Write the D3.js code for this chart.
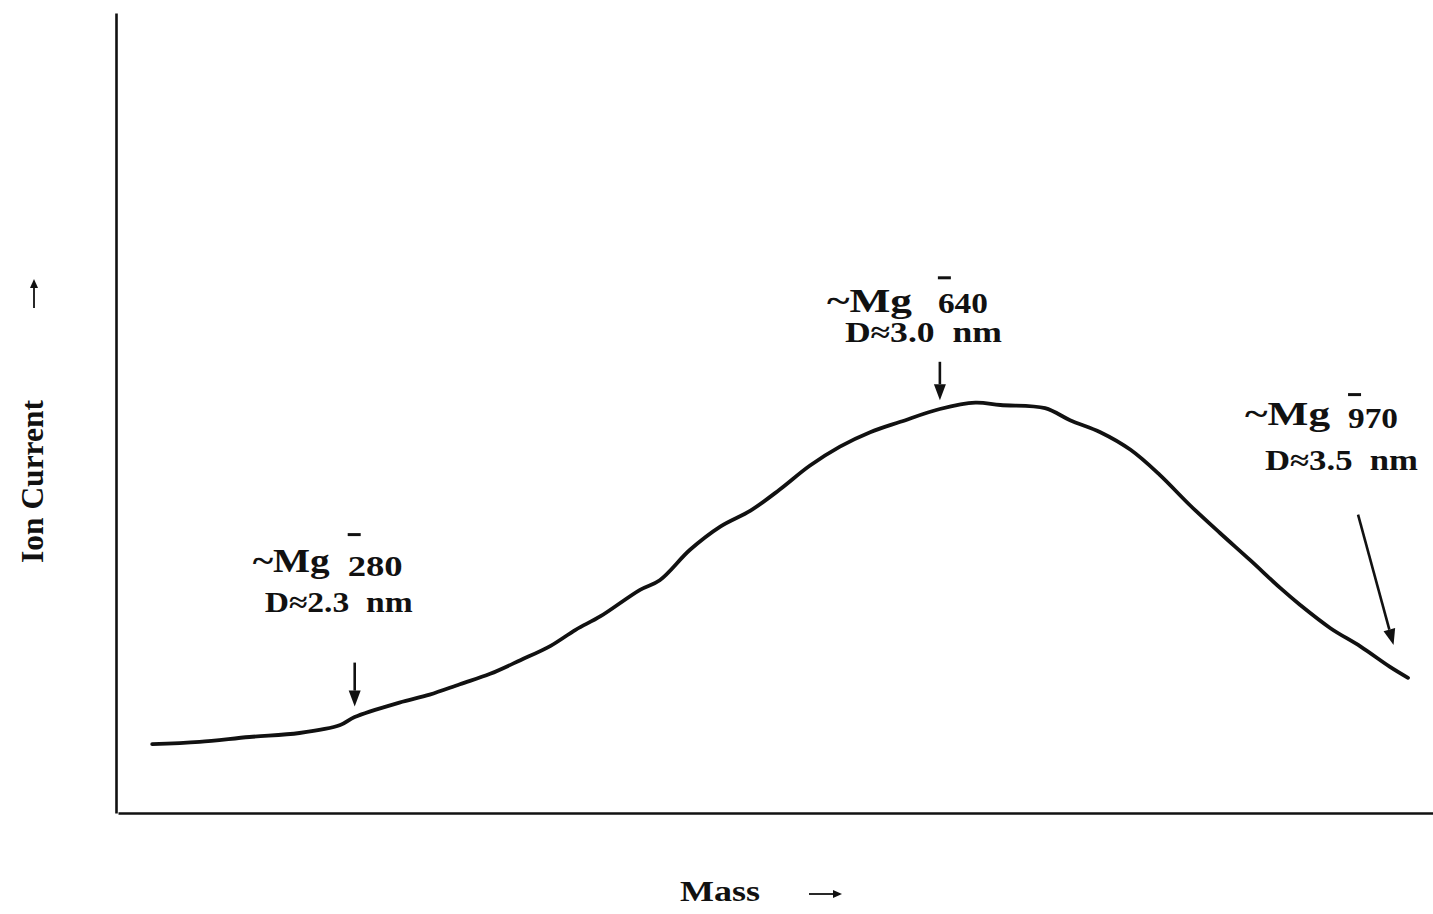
<!DOCTYPE html>
<html>
<head>
<meta charset="utf-8">
<script src="https://cdn.jsdelivr.net/npm/d3@7"></script>
<style>
  html, body { margin: 0; padding: 0; background: #fff; }
  svg { display: block; }
  text { font-family: "Liberation Serif", "Times New Roman", serif; font-weight: bold; fill: #111; }
</style>
</head>
<body>
<svg id="chart" width="1433" height="914"></svg>
<script>
// Mass spectrum of Mg cluster anions (arbitrary units on both axes)
const mass = [2.6, 6.2, 10.0, 13.8, 16.9, 18.0, 21.4, 23.7, 26.0, 28.3, 30.6, 32.9, 34.8, 36.7,
              39.7, 41.2, 43.5, 45.8, 48.1, 50.3, 52.6, 54.9, 57.2, 59.5, 62.5, 65.2, 67.1, 70.5,
              72.4, 74.7, 77.0, 79.2, 81.5, 83.8, 86.1, 88.4, 89.9, 92.2, 94.5, 96.7, 98.1];
const ionCurrent = [8.6, 8.9, 9.5, 10.0, 11.0, 12.0, 13.8, 14.8, 16.1, 17.4, 19.1, 20.9, 22.9, 24.6,
                    27.9, 29.1, 32.9, 35.8, 37.8, 40.4, 43.4, 45.8, 47.6, 48.9, 50.5, 51.3, 51.0, 50.6,
                    49.1, 47.6, 45.4, 42.3, 38.5, 35.0, 31.6, 28.1, 26.0, 23.1, 20.8, 18.3, 16.9];

// Cluster annotations: size, diameter, arrow tail and tip (data units)
const clusterSize = ["280", "640", "970"];
const clusterDiameter = ["2.3", "3.0", "3.5"];
const arrowTail = [[18.0, 18.8], [62.5, 56.4], [94.3, 37.3]];
const arrowTip  = [[18.0, 13.3], [62.5, 51.6], [97.0, 21.0]];

// Label placement relative to each arrow tail (pixels): offsets, baselines and text widths
const labelLayout = [
  { mgDx: -102, mgDy: -91, mgW: 77, numDx: -7,  numDy: -87, numW: 55, barDy: -128, dDx: -90, dDy: -51, dW: 148 },
  { mgDx: -113, mgDy: -50, mgW: 85, numDx: -2,  numDy: -49, numW: 50, barDy: -84,  dDx: -95, dDy: -20, dW: 157 },
  { mgDx: -113, mgDy: -90, mgW: 85, numDx: -10, numDy: -87, numW: 50, barDy: -120, dDx: -93, dDy: -45, dW: 153 }
];

const svg = d3.select("#chart");
const margin = { left: 116, right: 0, top: 12, bottom: 101 };
const W = 1433, H = 914;

const x = d3.scaleLinear().domain([0, 100]).range([margin.left + 2, W - margin.right]);
const y = d3.scaleLinear().domain([0, 100]).range([H - margin.bottom, margin.top + 1]);

// Axes (no ticks)
const xAxis = d3.axisBottom(x).tickValues([]).tickSizeOuter(0);
const yAxis = d3.axisLeft(y).tickValues([]).tickSizeOuter(0);
svg.append("g").attr("transform", `translate(0,${y(0)})`).call(xAxis)
  .select(".domain").attr("stroke", "#111").attr("stroke-width", 2.6);
svg.append("g").attr("transform", `translate(${margin.left},0)`).call(yAxis)
  .select(".domain").attr("stroke", "#111").attr("stroke-width", 2.6);

// Spectrum curve
const pts = mass.map((m, i) => [m, ionCurrent[i]]);
const line = d3.line().x(d => x(d[0])).y(d => y(d[1])).curve(d3.curveCatmullRom.alpha(0.5));
svg.append("path").datum(pts)
  .attr("d", line)
  .attr("fill", "none")
  .attr("stroke", "#111")
  .attr("stroke-width", 3.8)
  .attr("stroke-linejoin", "round")
  .attr("stroke-linecap", "round");

// Fixed-width text helper
function fitText(sel, width) {
  return sel.attr("textLength", width).attr("lengthAdjust", "spacingAndGlyphs");
}

// Straight arrow with a filled head
function arrow(x1, y1, x2, y2, width, headLen, headW) {
  const ang = Math.atan2(y2 - y1, x2 - x1);
  const bx = x2 - headLen * Math.cos(ang), by = y2 - headLen * Math.sin(ang);
  svg.append("line")
    .attr("x1", x1).attr("y1", y1).attr("x2", bx).attr("y2", by)
    .attr("stroke", "#111").attr("stroke-width", width);
  const px = -Math.sin(ang) * headW, py = Math.cos(ang) * headW;
  svg.append("path")
    .attr("d", `M${x2},${y2}L${bx + px},${by + py}L${bx - px},${by - py}Z`)
    .attr("fill", "#111");
}

// Arrows and labels
clusterSize.forEach((size, i) => {
  const tx = x(arrowTail[i][0]), ty = y(arrowTail[i][1]);
  const hx = x(arrowTip[i][0]), hy = y(arrowTip[i][1]);
  arrow(tx, ty, hx, hy, 2.6, 16, 6);

  const L = labelLayout[i];
  const g = svg.append("g");
  fitText(g.append("text")
    .attr("x", tx + L.mgDx).attr("y", ty + L.mgDy)
    .attr("font-size", 33)
    .text("~Mg"), L.mgW);
  fitText(g.append("text")
    .attr("x", tx + L.numDx).attr("y", ty + L.numDy)
    .attr("font-size", 29)
    .text(size), L.numW);
  // charge bar over the first digit
  g.append("line")
    .attr("x1", tx + L.numDx).attr("x2", tx + L.numDx + 13)
    .attr("y1", ty + L.barDy).attr("y2", ty + L.barDy)
    .attr("stroke", "#111").attr("stroke-width", 3);

  fitText(g.append("text")
    .attr("x", tx + L.dDx).attr("y", ty + L.dDy)
    .attr("font-size", 29)
    .attr("xml:space", "preserve")
    .style("white-space", "pre")
    .text(`D\u2248${clusterDiameter[i]}  nm`), L.dW);
});

// Axis titles
fitText(svg.append("text")
  .attr("x", 680).attr("y", 901)
  .attr("font-size", 30)
  .text("Mass"), 80);
arrow(809, 894, 842, 894, 1.8, 9, 4);

fitText(svg.append("text")
  .attr("transform", "translate(43,563) rotate(-90)")
  .attr("font-size", 31)
  .text("Ion Current"), 163);
arrow(34, 308, 34, 279, 1.8, 9, 4);
</script>
</body>
</html>
